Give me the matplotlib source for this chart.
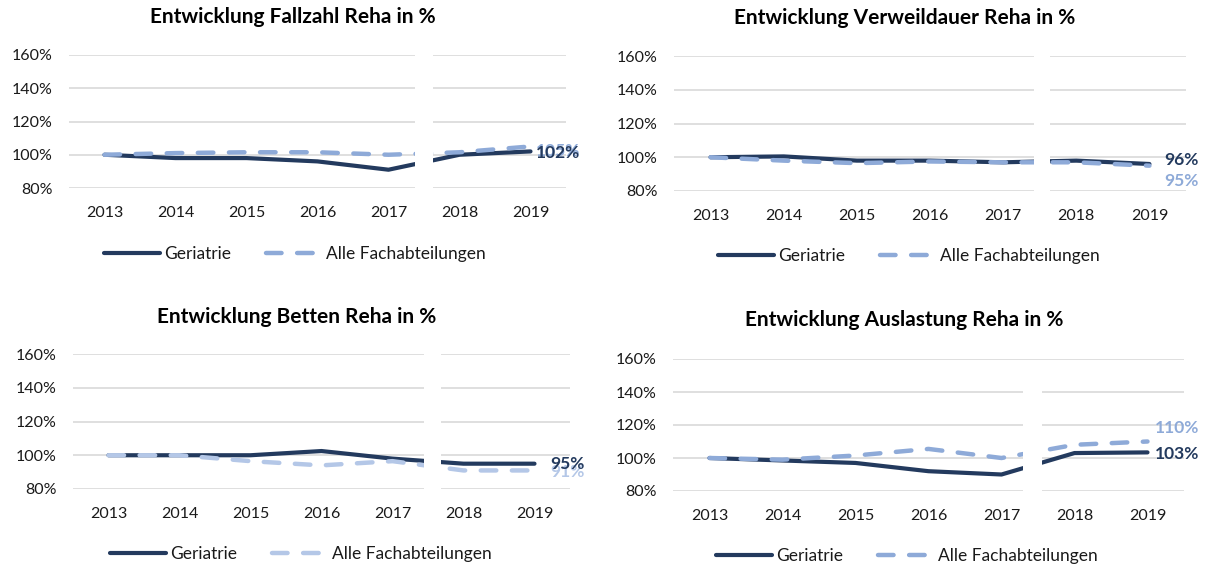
import matplotlib
matplotlib.use("Agg")
import matplotlib.pyplot as plt
from matplotlib.ticker import FuncFormatter

plt.rcParams['font.family'] = ['Lato', 'DejaVu Sans']

# data (index, 2013 = 100%)
years = ["2013", "2014", "2015", "2016", "2017", "2018", "2019"]

fallzahl_geriatrie = [100, 98, 98, 96, 91, 100, 102]
fallzahl_alle = [100, 101, 101.5, 101.5, 100, 101.5, 105]

verweil_geriatrie = [100, 100.5, 98, 98, 97, 98, 96]
verweil_alle = [100, 98, 96.5, 97.5, 97, 97, 95]

betten_geriatrie = [100, 100, 100, 102.5, 98, 95, 95]
betten_alle = [100, 100, 96.5, 94, 96.5, 91, 91]

auslastung_geriatrie = [100, 98.5, 97, 92, 90, 103, 103.4]
auslastung_alle = [100, 99, 101.5, 105.5, 100, 108, 110]

W, H = 1209, 581
NAVY = "#233a5e"
LIGHT = "#8eaad8"
LIGHTER = "#b4c7e7"
GRID = "#d9d9d9"

fig = plt.figure(figsize=(W / 100, H / 100), dpi=100)


def px_axes(left, top, right, bottom):
    return fig.add_axes([left / W, 1 - bottom / H, (right - left) / W, (bottom - top) / H])


def panel(rect, title, title_xy, geri, alle, alle_col, gap, lab_dx, lab_dy, legend_xy, gap_top=1.0):
    ax = px_axes(*rect)
    x = list(range(len(years)))
    ax.plot(x, geri, color=NAVY, lw=3, solid_capstyle='round', label="Geriatrie", zorder=3)
    ax.plot(x, alle, color=alle_col, lw=3.2, linestyle=(0, (3.5, 3.5)), dash_capstyle='round',
            label="Alle Fachabteilungen", zorder=4)
    ax.set_xlim(-0.5, 6.5)
    ax.set_ylim(80, 160)
    ax.set_yticks([80, 100, 120, 140, 160])
    ax.yaxis.set_major_formatter(FuncFormatter(lambda v, p: f"{v:.0f}%"))
    ax.set_xticks(x)
    ax.set_xticklabels(years)
    ax.grid(axis='y', color=GRID, lw=1.2)
    ax.set_axisbelow(True)
    for s in ax.spines.values():
        s.set_visible(False)
    ax.tick_params(length=0, labelsize=11.5, colors="#1a1a1a")
    ax.tick_params(axis='y', pad=12)
    ax.tick_params(axis='x', pad=13)
    # white break between 2017 and 2018
    ax.axvspan(gap[0], gap[1], ymin=0, ymax=gap_top, color="white", zorder=5, lw=0)

    # end labels (light one first so the dark one sits on top)
    ax.annotate(f"{alle[-1]:.0f}%", (6, alle[-1]), xytext=(lab_dx, lab_dy[1]), textcoords='offset points',
                color=alle_col, fontsize=12.5, fontweight='bold', va='center', ha='left', annotation_clip=False)
    ax.annotate(f"{geri[-1]:.0f}%", (6, geri[-1]), xytext=(lab_dx, lab_dy[0]), textcoords='offset points',
                color=NAVY, fontsize=12.5, fontweight='bold', va='center', ha='left', annotation_clip=False)

    fig.text(title_xy[0] / W, 1 - title_xy[1] / H, title, ha='center', va='center',
             fontsize=15, fontweight='bold', color="black")

    h, l = ax.get_legend_handles_labels()
    fig.legend(h, l, loc='center left', bbox_to_anchor=(legend_xy[0] / W, 1 - legend_xy[1] / H),
               ncol=2, frameon=False, fontsize=12.5, handlelength=3.2, handletextpad=0.25,
               columnspacing=2.0, borderaxespad=0, borderpad=0, labelcolor="#1a1a1a")
    return ax


panel((69, 55, 566, 188), "Entwicklung Fallzahl Reha in %", (293, 17),
      fallzahl_geriatrie, fallzahl_alle, LIGHT, (4.38, 4.62), 4, (-1, -3), (104, 254))
panel((674, 56, 1186, 191), "Entwicklung Verweildauer Reha in %", (905, 18),
      verweil_geriatrie, verweil_alle, LIGHT, (4.42, 4.64), 11, (3, -11), (718, 256))
panel((73, 354, 570, 489), "Entwicklung Betten Reha in %", (297, 317),
      betten_geriatrie, betten_alle, LIGHTER, (4.45, 4.69), 11, (0, -1), (110, 554))
panel((673, 359, 1184, 491), "Entwicklung Auslastung Reha in %", (904, 320),
      auslastung_geriatrie, auslastung_alle, LIGHT, (4.29, 4.55), 5, (-1.5, 10), (716, 556), gap_top=0.88)

fig.savefig("out.png", dpi=100)
